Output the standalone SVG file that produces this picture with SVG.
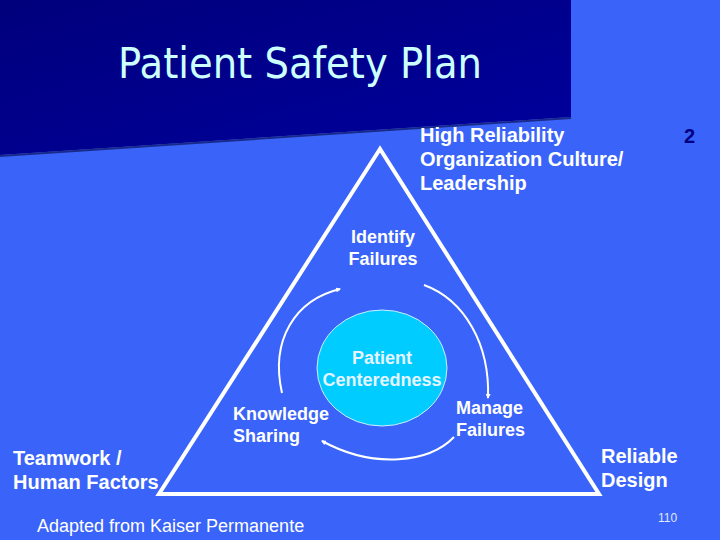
<svg xmlns="http://www.w3.org/2000/svg" width="720" height="540" viewBox="0 0 720 540">
<defs>
<linearGradient id="navy" x1="0" y1="0" x2="1" y2="1">
<stop offset="0" stop-color="#00007C"/>
<stop offset="1" stop-color="#00009E"/>
</linearGradient>
<marker id="ah" viewBox="0 0 10 10" refX="8" refY="5" markerWidth="5" markerHeight="5" orient="auto" markerUnits="userSpaceOnUse">
<path d="M0,0 L10,5 L0,10 z" fill="#FFFFFF"/>
</marker>
<style>
text{font-family:"Liberation Sans",Arial,sans-serif;fill:#FFFFFF}
.b{font-weight:bold}
.l18{font-size:20px}
.l16{font-size:18px}
.arc{fill:none;stroke:#FFFFFF;stroke-width:2}
</style>
</defs>
<rect width="720" height="540" fill="#3A64F9"/>
<polygon points="0,0 571,0 571,117 0,155" fill="url(#navy)"/>
<line x1="0" y1="156" x2="571" y2="118" stroke="#1A2A8A" stroke-width="2"/>
<text x="118" y="78" style="font-family:'DejaVu Sans',Verdana,sans-serif;font-size:42px;fill:#CCFFFF" textLength="364" lengthAdjust="spacingAndGlyphs">Patient Safety Plan</text>
<text x="684" y="143" class="b l18" style="fill:#000080">2</text>
<g id="triangle">
<polygon points="380,149 159,494 599,494" fill="none" stroke="#FFFFFF" stroke-width="4" stroke-linejoin="miter"/>
</g>
<g id="patient-centeredness">
<ellipse cx="382" cy="368" rx="65" ry="58" fill="#00CCFF" stroke="#CCEEFF" stroke-width="1"/>
<text x="382" y="364" class="b l16" text-anchor="middle" style="fill:#E6F4FF">Patient</text>
<text x="382" y="386" class="b l16" text-anchor="middle" style="fill:#E6F4FF">Centeredness</text>
</g>
<g id="connectors">
<path class="arc" d="M424,285 C465,300 490,345 488,398" marker-end="url(#ah)"/>
<path class="arc" d="M454,437 C430,462 375,470 322,441" marker-end="url(#ah)"/>
<path class="arc" d="M282,393 C270,340 295,300 340,289" marker-end="url(#ah)"/>
</g>
<g id="hro">
<text class="b l18" x="420" y="142">High Reliability</text>
<text class="b l18" x="420" y="166">Organization Culture/</text>
<text class="b l18" x="420" y="190">Leadership</text>
</g>
<g id="identify">
<text class="b l16" x="383" y="243" text-anchor="middle">Identify</text>
<text class="b l16" x="383" y="265" text-anchor="middle">Failures</text>
</g>
<g id="knowledge">
<text class="b l16" x="233" y="420">Knowledge</text>
<text class="b l16" x="233" y="442">Sharing</text>
</g>
<g id="manage">
<text class="b l16" x="456" y="414">Manage</text>
<text class="b l16" x="456" y="436">Failures</text>
</g>
<g id="teamwork">
<text class="b l18" x="13" y="465">Teamwork /</text>
<text class="b l18" x="13" y="489">Human Factors</text>
</g>
<g id="reliable">
<text class="b l18" x="601" y="463">Reliable</text>
<text class="b l18" x="601" y="487">Design</text>
</g>
<text x="37" y="532" style="font-size:18px">Adapted from Kaiser Permanente</text>
<text x="658" y="522" style="font-size:12px;fill:#E0E8FF">110</text>
</svg>
